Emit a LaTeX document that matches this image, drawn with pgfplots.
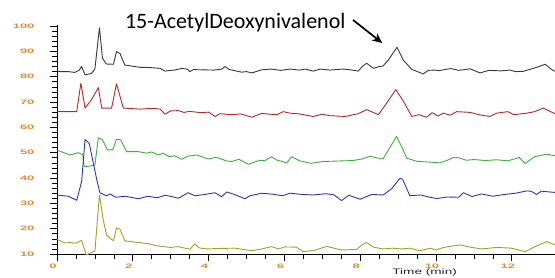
\documentclass[border=0pt]{standalone}
\usepackage{pgfplots}
\pgfplotsset{compat=1.18}
\usetikzlibrary{arrows.meta}
\usepackage{fontspec}
\setmainfont{Carlito}
\newfontfamily\labfont{Liberation Sans}
\definecolor{tickor}{RGB}{225,140,50}
\definecolor{cblack}{RGB}{55,55,55}
\definecolor{cred}{RGB}{180,40,40}
\definecolor{cgreen}{RGB}{60,175,60}
\definecolor{cblue}{RGB}{50,50,180}
\definecolor{colive}{RGB}{160,160,40}
\begin{document}
\begin{tikzpicture}
\begin{axis}[
 at={(0,0)}, anchor=south west,
 scale only axis, width=498pt, height=229pt,
 xmin=0, xmax=13.14, ymin=10, ymax=100.4,
 axis x line*=bottom, axis y line*=left,
 axis line style={-, black, line width=0.8pt},
 xtick={0,2,...,12}, ytick={10,20,...,100},
 minor x tick num=3, minor y tick num=4,
 tick align=outside, major tick length=7pt, minor tick length=5pt,
 tick style={black, line width=0.6pt},
 clip=false,
 /pgf/number format/assume math mode=true,
 ticklabel style={font=\labfont\bfseries\fontsize{6.5}{7}\selectfont, text=tickor},
 xticklabel={\scalebox{2}[1]{\pgfmathprintnumber{\tick}}},
 yticklabel={\scalebox{2}[1]{\pgfmathprintnumber{\tick}}},
 yticklabel shift=12pt,
 xticklabel style={xshift=-4pt, yshift=1pt},
 no markers,
 every axis plot/.append style={line width=0.9pt, line join=round},
]
\addplot[cblack] table {
0.00 82.3
0.06 82.0
0.30 82.0
0.47 81.7
0.58 82.5
0.65 84.0
0.74 80.7
0.91 81.3
1.00 83
1.12 99.3
1.20 87.3
1.30 85.0
1.49 84.9
1.57 89.9
1.66 89.2
1.79 84.6
2.19 83.7
2.45 83.6
2.72 83.3
2.85 82.2
2.94 82.4
3.1 82.6
3.30 83.3
3.45 82.9
3.50 82.0
3.6 82.8
3.85 82.7
4.15 82.6
4.35 83.0
4.43 84.0
4.55 82.8
4.87 81.8
5.00 82.0
5.14 81.5
5.40 82.7
5.65 83.0
5.90 82.5
6.15 83.0
6.40 82.6
6.55 83.0
6.76 82.2
6.95 83.0
7.2 82.6
7.35 82.8
7.55 83.0
7.75 82.7
7.95 82.2
8.05 84.0
8.17 85.3
8.35 83.3
8.5 84.0
8.6 84.2
8.74 86.5
8.97 91.6
9.14 86.5
9.36 82.9
9.66 81.1
9.8 82.5
9.95 82.6
10.1 82.4
10.25 82.9
10.4 83.2
10.6 82.5
10.9 83.1
11.16 81.5
11.4 82.5
11.7 82.3
11.95 82.6
12.1 82.0
12.3 82.1
12.5 83.0
12.66 83.7
12.88 84.9
13.09 82.4
13.14 82.2
};
\addplot[cred] table {
0.00 66.2
0.52 66.2
0.63 77.4
0.74 67.6
0.91 70.9
1.09 75.7
1.18 67.6
1.44 67.6
1.57 77.2
1.75 67.6
2.20 67.2
2.54 67.5
2.72 67.2
2.85 65.2
3.00 66.5
3.2 66.6
3.35 65.9
3.5 66.3
3.8 65.8
4.0 66.0
4.17 64.3
4.3 65.4
4.6 65.0
4.85 65.3
5.14 64.0
5.4 65.5
5.6 65.2
5.8 65.0
5.97 66.2
6.15 65.6
6.4 65.3
6.76 64.3
7.0 65.2
7.2 64.6
7.6 64.3
7.95 65.4
8.17 67.0
8.48 65.0
8.70 69.6
8.94 74.9
9.14 70.3
9.36 64.3
9.55 65.0
9.75 64.0
9.9 65.8
10.05 64.5
10.2 65.6
10.37 64.8
10.55 66.2
10.9 65.9
11.16 64.9
11.42 64.3
11.6 65.6
11.9 66.2
12.05 65.0
12.4 65.6
12.6 66.2
12.83 67.6
13.14 65.4
};
\addplot[cgreen] table {
0.00 51.0
0.34 49.1
0.56 50.0
0.68 49.1
0.72 44.5
0.87 44.7
1.00 45.1
1.09 55.9
1.20 55.1
1.33 51.1
1.47 51.1
1.57 55.3
1.68 55.1
1.84 50.4
2.15 50.4
2.37 49.8
2.5 50.3
2.67 49.1
2.8 49.8
2.96 48.4
3.1 48.8
3.29 47.4
3.45 48.6
3.69 49.1
3.99 47.5
4.2 48.2
4.48 46.7
4.61 46.5
4.8 47.4
5.05 45.4
5.3 46.8
5.5 47.0
5.66 48.4
5.8 47.1
6.06 46.0
6.19 48.4
6.4 46.8
6.7 45.8
7.0 46.5
7.4 46.7
7.8 46.9
8.05 47.5
8.26 48.6
8.45 47.9
8.6 47.5
8.79 52.2
8.96 56.4
9.09 52.5
9.23 47.8
9.5 46.6
9.71 46.4
10.1 46.0
10.3 47.0
10.46 48.1
10.6 48.0
10.8 47.0
11.0 47.3
11.3 46.9
11.6 47.2
11.9 46.8
12.2 48.1
12.35 45.7
12.6 48.4
12.92 49.4
13.14 48.8
};
\addplot[cblue] table {
0.00 33.3
0.3 32.8
0.52 31.2
0.65 38.6
0.74 55.2
0.85 53.7
0.96 45.8
1.05 39.3
1.13 34.2
1.3 33.0
1.40 33.7
1.55 32.4
1.8 32.8
2.15 31.8
2.4 32.8
2.65 32.2
2.85 33.2
3.05 32.6
3.2 32.0
3.46 34.2
3.64 33.0
3.9 33.5
4.17 34.2
4.34 32.6
4.48 34.5
4.7 33.4
4.96 31.8
5.09 33.0
5.4 34.0
5.7 33.6
5.95 33.0
6.15 34.0
6.4 33.6
6.75 33.3
7.1 33.8
7.3 33.4
7.51 31.1
7.7 33.2
8.0 31.6
8.3 33.5
8.61 33.3
8.83 35.8
9.05 39.9
9.12 39.5
9.31 33.0
9.6 33.3
9.8 32.5
10.02 31.9
10.3 32.5
10.6 32.4
10.72 34.2
10.95 32.7
11.2 33.7
11.5 32.8
11.8 33.5
12.1 34.0
12.39 34.9
12.5 34.8
12.6 34.0
12.65 33.5
12.78 34.8
13.14 34.3
};
\addplot[colive] table {
0.00 15.8
0.20 14.4
0.34 14.5
0.5 14.3
0.65 15.4
0.77 9.6
0.87 10.3
1.00 11.2
1.12 33.3
1.22 23.4
1.31 17.4
1.49 15.2
1.57 20.3
1.66 19.8
1.79 15.2
2.1 14.6
2.45 14.0
2.6 13.3
2.98 12.6
3.2 12.9
3.35 12.4
3.51 11.9
3.64 14.0
3.75 12.4
3.95 12.0
4.3 12.2
4.7 12.3
5.14 11.3
5.4 12.0
5.66 12.9
5.85 12.0
6.0 12.8
6.32 12.7
6.50 10.9
6.8 11.5
7.12 13.0
7.5 11.6
7.91 11.8
8.04 13.6
8.17 14.5
8.35 12.7
8.6 12.0
8.85 12.3
9.1 12.0
9.3 12.3
9.58 11.3
9.85 12.3
10.0 11.6
10.2 12.6
10.63 13.6
10.9 12.7
11.2 12.0
11.6 12.6
12.0 12.3
12.35 10.9
12.6 12.8
12.92 14.9
13.14 13.6
};
\node[anchor=base west, font=\fontsize{22}{26}\selectfont, inner sep=0pt] at (axis cs:1.79,99.2) {15-AcetylDeoxynivalenol};
\draw[-{Stealth[length=10pt,width=9pt]}, line width=1.7pt] (axis cs:7.81,102.4) -- (axis cs:8.58,93.3);
\node[anchor=base, font=\labfont\fontsize{8}{9}\selectfont, text=black!85, inner sep=0pt, yshift=-20.5pt] at (axis cs:9.7,10) {\scalebox{1.7}[1]{Time (min)}};
\end{axis}
\pgfresetboundingbox
\path[use as bounding box] (-57pt,-23pt) rectangle (498pt,254pt);
\end{tikzpicture}
\end{document}
